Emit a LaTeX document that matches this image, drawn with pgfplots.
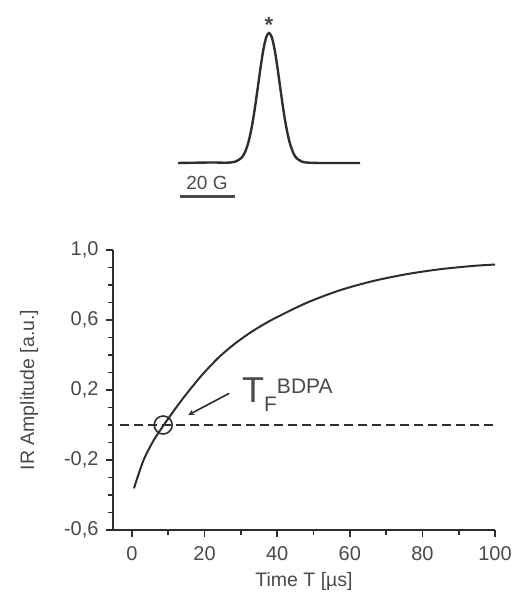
\documentclass[border=0pt]{standalone}
\usepackage{pgfplots}
\pgfplotsset{compat=1.18}
\usepackage{fontspec}
\setmainfont{Liberation Sans}
\definecolor{txt}{HTML}{4A4A4A}
\definecolor{ln}{HTML}{2E2E2E}
\begin{document}
\begin{tikzpicture}[x=1pt,y=1pt]
\path[use as bounding box] (0,0) rectangle (513,597);
% inset
\begin{axis}[at={(178pt,434pt)},anchor=south west,scale only axis,
  width=182pt,height=130pt,hide axis,clip=false,
  xmin=-33,xmax=33,ymin=0,ymax=1]
\addplot[ln,line width=2.4pt,smooth] coordinates {
(-33,0)(-24,0.003)(-20,0.004)(-16,0.002)(-14,0.004)(-12,0.012)(-10,0.039)(-9,0.07)(-8,0.122)(-7,0.199)(-6,0.306)(-5,0.44)(-4,0.591)(-3,0.744)(-2,0.877)(-1,0.968)(0,1)
(1,0.968)(2,0.877)(3,0.744)(4,0.591)(5,0.44)(6,0.306)(7,0.199)(8,0.122)(9,0.069)(10,0.037)(12,0.01)(14,0.003)(16,0.001)(20,0)(33,0)};
\node[txt,font=\fontsize{22}{22}\selectfont\bfseries,anchor=south,inner sep=0pt] at (axis cs:0,1.0) {*};
\node[txt,font=\fontsize{19}{19}\selectfont] at (axis cs:-22.5,-0.15) {20 G};
\draw[txt,line width=2.6pt] (axis cs:-32.4,-0.26) -- (axis cs:-12.4,-0.26);
\end{axis}
% main axis
\begin{axis}[at={(113pt,67pt)},anchor=south west,scale only axis,
  width=382pt,height=280pt,
  xmin=-5.23,xmax=100,ymin=-0.6,ymax=1.0,
  axis x line*=bottom,axis y line*=left,
  axis line style={ln,line width=1.8pt,-},
  xtick={0,20,40,60,80,100},minor xtick={10,30,50,70,90},
  ytick={-0.6,-0.2,0.2,0.6,1.0},minor ytick={-0.5,-0.4,-0.3,-0.1,0,0.1,0.3,0.4,0.5,0.7,0.8,0.9},
  yticklabels={{-0,6},{-0,2},{0,2},{0,6},{1,0}},
  tick align=outside,major tick length=7pt,minor tick length=5pt,
  tick style={ln,line width=1.6pt},
  ticklabel style={txt,font=\fontsize{20}{20}\selectfont},
  /pgf/number format/assume math mode=true,
  xlabel={Time T [µs]},ylabel={IR Amplitude [a.u.]},
  label style={txt,font=\fontsize{19.5}{19.5}\selectfont},
  xlabel style={yshift=-5pt},ylabel style={yshift=19pt},
  xticklabel style={yshift=-6pt},yticklabel style={xshift=-4pt},
  clip=false]
\addplot[ln,line width=1.8pt,dash pattern=on 9pt off 5pt] coordinates {(-3.3,0)(100,0)};
\addplot[ln,line width=2pt,smooth] coordinates {
(0.55,-0.362)(3.1,-0.205)(5.9,-0.09)(8.6,-0.005)(11.4,0.078)(15.1,0.18)(19.6,0.293)(24.2,0.392)(28.8,0.472)(33.5,0.54)(38.9,0.605)(48.1,0.698)(57.3,0.77)(66.5,0.823)(75.7,0.862)(84.8,0.89)(94,0.909)(100,0.917)};
\addplot[ln,line width=1.6pt,only marks,mark=o,mark size=9pt] coordinates {(8.6,0)};
\draw[ln,line width=1.6pt,-stealth] (axis cs:26.8,0.181) -- (axis cs:15.5,0.057);
\node[txt,anchor=base west,inner sep=0pt] at (axis cs:30.3,0.126) {\fontsize{36}{36}\selectfont T\raisebox{-9pt}{\fontsize{21}{21}\selectfont F}\raisebox{9pt}{\fontsize{21}{21}\selectfont BDPA}};
\end{axis}
\end{tikzpicture}
\end{document}
